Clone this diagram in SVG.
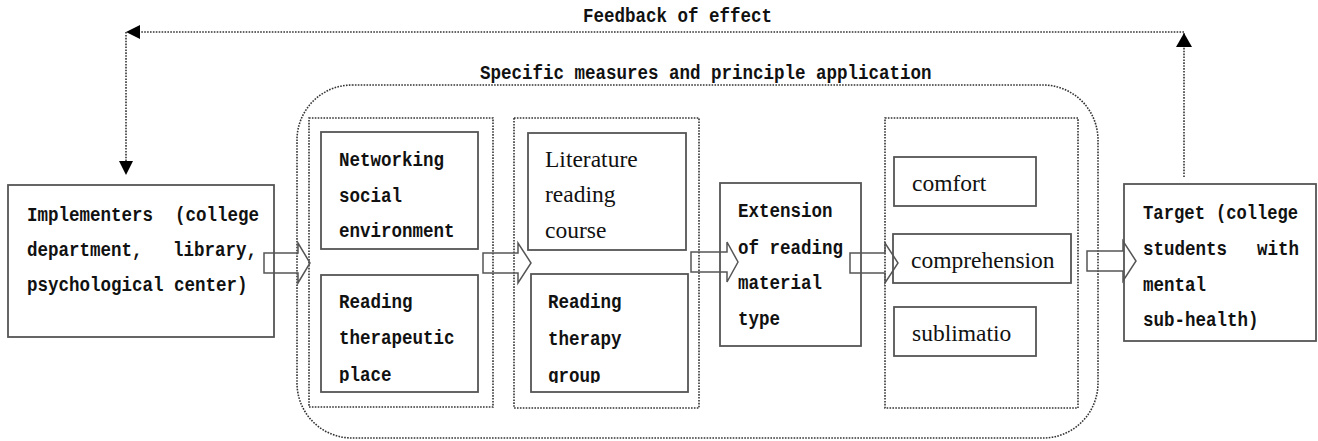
<svg xmlns="http://www.w3.org/2000/svg" width="1318" height="441" viewBox="0 0 1318 441">
<style>
.box{fill:#fff;stroke:#555;stroke-width:1.8}
.dot{fill:none;stroke:#333;stroke-width:1.6;stroke-dasharray:1.6 1.3}
.m{font-family:"Liberation Mono","DejaVu Sans Mono",monospace;font-weight:bold;font-size:20px;fill:#111}
.t{font-family:"Liberation Serif","Times New Roman",serif;font-size:23.5px;fill:#111}
.blk{fill:none;stroke:#555;stroke-width:1.5;stroke-linejoin:miter}
.head{fill:#000}
</style>
<defs>
<clipPath id="clipA"><rect x="322" y="276" width="155" height="107"/></clipPath>
<clipPath id="clipB"><rect x="532" y="275" width="155" height="108"/></clipPath>
</defs>

<g id="title-feedback">
<text class="m" x="583" y="22" textLength="189" lengthAdjust="spacingAndGlyphs">Feedback of effect</text>
</g>

<g id="measures">
<rect class="dot" x="297" y="85" width="801" height="353" rx="55" ry="55"/>
<text class="m" x="480" y="79" textLength="451.5" lengthAdjust="spacingAndGlyphs">Specific measures and principle application</text>
</g>

<g id="implementers">
<rect class="box" x="8" y="185" width="266" height="152"/>
<text class="m" x="27" y="221" textLength="126" lengthAdjust="spacingAndGlyphs">Implementers</text>
<text class="m" x="175" y="221" textLength="84" lengthAdjust="spacingAndGlyphs">(college</text>
<text class="m" x="27" y="256" textLength="115.5" lengthAdjust="spacingAndGlyphs">department,</text>
<text class="m" x="173" y="256" textLength="84" lengthAdjust="spacingAndGlyphs">library,</text>
<text class="m" x="27" y="291" textLength="220.5" lengthAdjust="spacingAndGlyphs">psychological center)</text>
</g>

<g id="group-environment">
<rect class="dot" x="309" y="118" width="184" height="289"/>
</g>
<g id="networking">
<rect class="box" x="321" y="132" width="157" height="117"/>
<text class="m" x="339" y="166" textLength="105" lengthAdjust="spacingAndGlyphs">Networking</text>
<text class="m" x="339" y="202" textLength="63" lengthAdjust="spacingAndGlyphs">social</text>
<text class="m" x="339" y="237" textLength="115.5" lengthAdjust="spacingAndGlyphs">environment</text>
</g>
<g id="therapeutic-place">
<rect class="box" x="321" y="275" width="157" height="117"/>
<g clip-path="url(#clipA)">
<text class="m" x="339" y="308" textLength="73.5" lengthAdjust="spacingAndGlyphs">Reading</text>
<text class="m" x="339" y="344" textLength="115.5" lengthAdjust="spacingAndGlyphs">therapeutic</text>
<text class="m" x="339" y="381" textLength="52.5" lengthAdjust="spacingAndGlyphs">place</text>
</g>
</g>

<g id="group-course">
<rect class="dot" x="514" y="118" width="185" height="290"/>
</g>
<g id="literature">
<rect class="box" x="528" y="133" width="158" height="117"/>
<text class="t" x="545" y="167">Literature</text>
<text class="t" x="545" y="202">reading</text>
<text class="t" x="545" y="238">course</text>
</g>
<g id="therapy-group">
<rect class="box" x="531" y="274" width="157" height="118"/>
<g clip-path="url(#clipB)">
<text class="m" x="548" y="308" textLength="73.5" lengthAdjust="spacingAndGlyphs">Reading</text>
<text class="m" x="548" y="345" textLength="73.5" lengthAdjust="spacingAndGlyphs">therapy</text>
<text class="m" x="548" y="382" textLength="52.5" lengthAdjust="spacingAndGlyphs">group</text>
</g>
</g>

<g id="extension">
<rect class="box" x="720" y="183" width="141" height="163"/>
<text class="m" x="738" y="217" textLength="94.5" lengthAdjust="spacingAndGlyphs">Extension</text>
<text class="m" x="738" y="254" textLength="105" lengthAdjust="spacingAndGlyphs">of reading</text>
<text class="m" x="738" y="289" textLength="84" lengthAdjust="spacingAndGlyphs">material</text>
<text class="m" x="738" y="325" textLength="42" lengthAdjust="spacingAndGlyphs">type</text>
</g>

<g id="group-effects">
<rect class="dot" x="885" y="118" width="193" height="290"/>
</g>
<g id="comfort">
<rect class="box" x="894" y="157" width="142" height="49"/>
<text class="t" x="912" y="191">comfort</text>
</g>
<g id="comprehension">
<rect class="box" x="893" y="234" width="178" height="49"/>
<text class="t" x="911" y="268">comprehension</text>
</g>
<g id="sublimation">
<rect class="box" x="894" y="307" width="142" height="49"/>
<text class="t" x="912" y="341">sublimatio</text>
</g>

<g id="target">
<rect class="box" x="1124" y="184" width="192" height="157"/>
<text class="m" x="1143" y="219" textLength="62" lengthAdjust="spacingAndGlyphs">Target</text>
<text class="m" x="1216" y="219" textLength="82" lengthAdjust="spacingAndGlyphs">(college</text>
<text class="m" x="1143" y="255" textLength="84" lengthAdjust="spacingAndGlyphs">students</text>
<text class="m" x="1257" y="255" textLength="42" lengthAdjust="spacingAndGlyphs">with</text>
<text class="m" x="1143" y="291" textLength="63" lengthAdjust="spacingAndGlyphs">mental</text>
<text class="m" x="1143" y="326" textLength="115.5" lengthAdjust="spacingAndGlyphs">sub-health)</text>
</g>

<g id="connectors">
<polygon class="blk" points="264,253 298,253 298,243 310,263 298,283 298,273 264,273"/>
<polygon class="blk" points="483,253 518,253 518,243 531,263 518,283 518,273 483,273"/>
<polygon class="blk" points="691,252 727,252 727,242 738,262 727,282 727,272 691,272"/>
<polygon class="blk" points="850,253 885,253 885,243 898,263 885,283 885,273 850,273"/>
<polygon class="blk" points="1087,251 1123,251 1123,241 1136,261 1123,281 1123,271 1087,271"/>
<path class="dot" d="M1184,177 V32 H140 M126,32 V161"/>
<polygon class="head" points="1184,33 1176,47 1192,47"/>
<polygon class="head" points="126,32 140,25 140,39"/>
<polygon class="head" points="126,175 119,161 133,161"/>
</g>
</svg>
